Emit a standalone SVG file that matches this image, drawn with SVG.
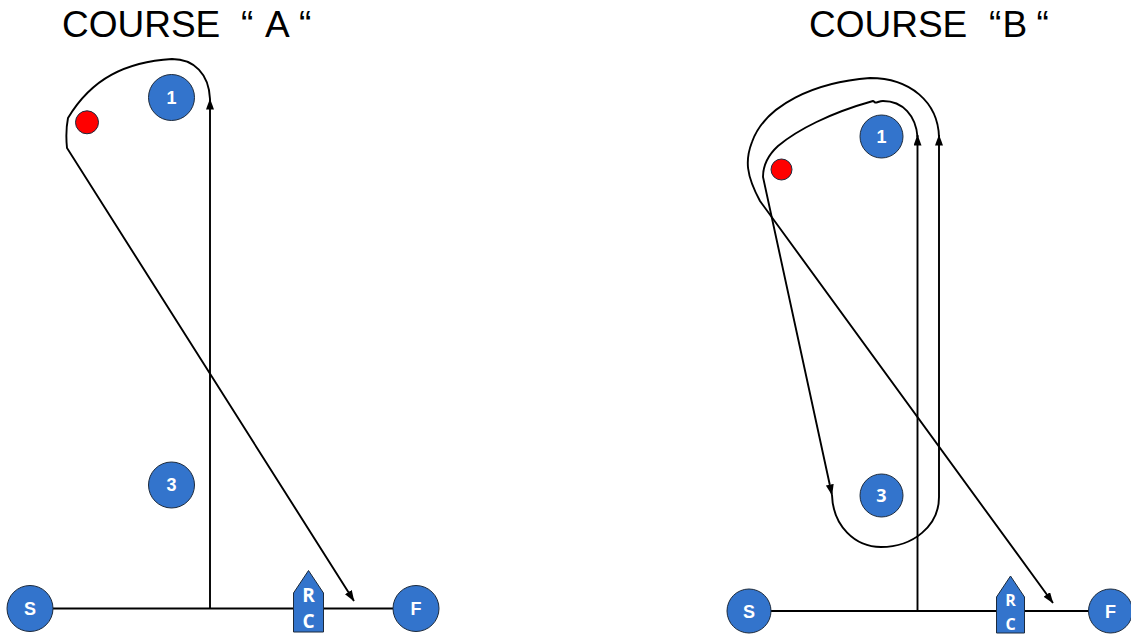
<svg xmlns="http://www.w3.org/2000/svg" width="1131" height="636" viewBox="0 0 1131 636">
<style>
.c{fill:none;stroke:#000;stroke-width:1.9}
.a{marker-end:url(#h)}
.b{fill:#3374CC;stroke:#1c2a3c;stroke-width:1}
.r{fill:#FF0000;stroke:#1c2a3c;stroke-width:1}
.l{font-family:"Liberation Sans",Arial,sans-serif;font-weight:700;font-size:18px;fill:#fff;text-anchor:middle}
.o{font-family:"Open Sans","Liberation Sans",sans-serif;font-weight:700;font-size:18px;fill:#fff;text-anchor:middle}
.t{font-family:"Liberation Sans",Arial,sans-serif;font-size:37px;fill:#000;white-space:pre}
</style>
<defs>
<marker id="h" markerUnits="userSpaceOnUse" markerWidth="11" markerHeight="10" refX="10.500" refY="4" orient="auto"><path d="M0 0L11 4L0 8Z" fill="#000"/></marker>
</defs>
<rect width="1131" height="636" fill="#fff"/>
<text class="t" x="62" y="37">COURSE  <tspan x="241">“ </tspan><tspan x="265">A </tspan><tspan x="299">“</tspan></text>
<text class="t" x="809" y="37">COURSE  <tspan x="989">“</tspan><tspan x="1002.500">B </tspan><tspan x="1036.500">“</tspan></text>
<g id="connectors">
<path class="c" d="M30 608.500H416"/>
<path class="c a" d="M210 608.500V99"/>
<path class="c a" d="M210 99C209 74 194 59 172 59C126 62 92 78 68 118C66 128 66 138 67 148L354 601"/>
<path class="c" d="M749 611H1111"/>
<path class="c a" d="M917.500 611V135"/>
<path class="c a" d="M917.500 137C916 116 903 101 883 101C879 101 877 103 875 102.500C874 102 874 101 873 101C830 113 797 130 778 146C766 157 763 168 763 177L832 495"/>
<path class="c a" d="M832 495C833 526 855 547 881 547C913 547 939 526 939 497V135"/>
<path class="c a" d="M939 137C938 102 910 78 870 78C815 82 765 105 752 142C745 160 746 175 760 201L1053 603"/>
</g>
<g id="node-a-1"><circle class="b" cx="171.500" cy="97.500" r="23"/><text class="l" x="171.500" y="103.500">1</text></g>
<g id="node-a-3"><circle class="b" cx="171.500" cy="485" r="23"/><text class="l" x="171.500" y="491">3</text></g>
<g id="node-a-red"><circle class="r" cx="87" cy="122.300" r="11.500"/></g>
<g id="node-a-s"><circle class="b" cx="30" cy="608.500" r="23"/><text class="l" x="30" y="615">S</text></g>
<g id="node-a-f"><circle class="b" cx="416" cy="608.500" r="23"/><text class="l" x="416" y="615">F</text></g>
<g id="node-a-rc"><path class="b" d="M293.500 593L308.500 570.500L323.500 593V632H293.500Z"/><text class="o" x="308.500" y="602" style="font-size:19px">R</text><text class="o" x="308.500" y="628" style="font-size:19px">C</text></g>
<g id="node-b-1"><circle class="b" cx="881.500" cy="136.500" r="21.500"/><text class="l" x="881.500" y="142.500">1</text></g>
<g id="node-b-3"><circle class="b" cx="881.500" cy="495.500" r="21.500"/><text class="o" x="881.500" y="501.500">3</text></g>
<g id="node-b-red"><circle class="r" cx="781.500" cy="169.500" r="10.500"/></g>
<g id="node-b-s"><circle class="b" cx="749" cy="611" r="22"/><text class="l" x="749" y="617.500">S</text></g>
<g id="node-b-f"><circle class="b" cx="1110.500" cy="611" r="22"/><text class="l" x="1110.500" y="617.500">F</text></g>
<g id="node-b-rc"><path class="b" d="M996.500 597L1010.500 576L1024.500 597V633H996.500Z"/><text class="o" x="1010.500" y="606" style="font-size:16px">R</text><text class="o" x="1010.500" y="630" style="font-size:16px">C</text></g>
</svg>
